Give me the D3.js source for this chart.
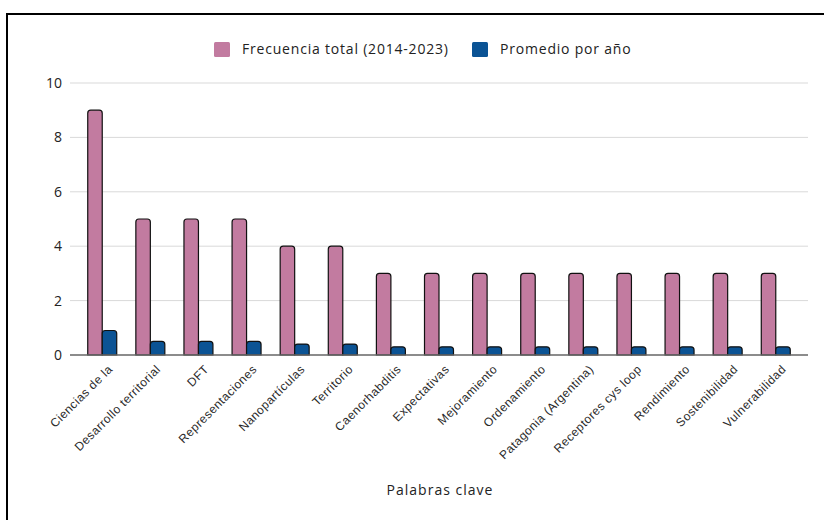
<!DOCTYPE html>
<html>
<head>
<meta charset="utf-8">
<script src="https://cdn.jsdelivr.net/npm/d3@7"></script>
<style>
  html, body { margin: 0; padding: 0; background: #fff; }
  svg { display: block; }
</style>
</head>
<body>
<svg id="chart" width="824" height="520"></svg>
<script>
// Keywords and their counts
const categories = [
  "Ciencias de la", "Desarrollo territorial", "DFT", "Representaciones",
  "Nanopartículas", "Territorio", "Caenorhabditis", "Expectativas",
  "Mejoramiento", "Ordenamiento", "Patagonia (Argentina)", "Receptores cys loop",
  "Rendimiento", "Sostenibilidad", "Vulnerabilidad"
];
const totalFreq = [9, 5, 5, 5, 4, 4, 3, 3, 3, 3, 3, 3, 3, 3, 3];
const yearlyAvg = [0.9, 0.5, 0.5, 0.5, 0.4, 0.4, 0.3, 0.3, 0.3, 0.3, 0.3, 0.3, 0.3, 0.3, 0.3];
const seriesNames = ["Frecuencia total (2014-2023)", "Promedio por año"];
const yTicks = [0, 2, 4, 6, 8, 10];
const xTitle = "Palabras clave";

const colors = ["#c27ba0", "#0b5394"];
const series = [totalFreq, yearlyAvg];

const svg = d3.select("#chart");
const plotLeft = 70, plotRight = 808, plotTop = 83, plotBottom = 355;

// outer frame
svg.append("rect")
  .attr("x", 7).attr("y", 14)
  .attr("width", 900).attr("height", 600)
  .attr("fill", "none").attr("stroke", "#000").attr("stroke-width", 2);

const x0 = d3.scaleBand().domain(categories).range([plotLeft, plotRight])
  .paddingInner(0).paddingOuter(0.17);
const x1 = d3.scaleBand().domain(seriesNames).range([0, x0.bandwidth()])
  .paddingInner(0).paddingOuter(0.66);
const y = d3.scaleLinear().domain([0, 10]).range([plotBottom, plotTop]);

// gridlines
svg.append("g").selectAll("line").data(yTicks.filter(d => d !== 0)).join("line")
  .attr("x1", plotLeft).attr("x2", plotRight)
  .attr("y1", d => y(d)).attr("y2", d => y(d))
  .attr("stroke", "#d9d9d9").attr("stroke-width", 1);

// y axis labels
const yAxis = d3.axisLeft(y).tickValues(yTicks).tickSize(0).tickPadding(8);
svg.append("g").attr("transform", `translate(${plotLeft},0)`).call(yAxis)
  .call(g => g.select(".domain").remove())
  .call(g => g.selectAll("text")
    .attr("font-family", "Open Sans, sans-serif")
    .attr("font-size", 14).attr("fill", "#222"));

// rounded-top bar path
function barPath(xp, w, v) {
  const y0 = y(0), y1 = y(v);
  const r = Math.min(3, w / 2, (y0 - y1));
  return `M${xp},${y0}V${y1 + r}Q${xp},${y1} ${xp + r},${y1}H${xp + w - r}Q${xp + w},${y1} ${xp + w},${y1 + r}V${y0}Z`;
}

series.forEach((vals, si) => {
  svg.append("g").selectAll("path").data(categories).join("path")
    .attr("d", (c, i) => barPath(x0(c) + x1(seriesNames[si]), x1.bandwidth(), vals[i]))
    .attr("fill", colors[si])
    .attr("stroke", "#111").attr("stroke-width", 1.2);
});

// baseline
svg.append("line")
  .attr("x1", plotLeft).attr("x2", plotRight)
  .attr("y1", y(0)).attr("y2", y(0))
  .attr("stroke", "#666").attr("stroke-width", 1.5);

// x labels, rotated
const xAxis = d3.axisBottom(x0).tickSize(0).tickPadding(0);
svg.append("g").attr("transform", `translate(0,${plotBottom})`).call(xAxis)
  .call(g => g.select(".domain").remove())
  .call(g => g.selectAll("text")
    .attr("font-family", "Liberation Sans, Arial, sans-serif")
    .attr("font-size", 12).attr("fill", "#2a2a2a")
    .attr("letter-spacing", 0.5)
    .attr("text-anchor", "end")
    .attr("dy", 0)
    .attr("transform", "translate(11,15) rotate(-45)"));

// legend
const legend = svg.append("g").attr("font-family", "Open Sans, sans-serif")
  .attr("font-size", 14).attr("letter-spacing", 0.8).attr("fill", "#222");
const legendX = [214, 472];
seriesNames.forEach((n, i) => {
  legend.append("rect").attr("x", legendX[i]).attr("y", 42).attr("width", 16).attr("height", 15)
    .attr("rx", 1.5).attr("fill", colors[i]);
  legend.append("text").attr("x", legendX[i] + 28).attr("y", 54).text(n).attr("fill", "#222");
});

// x axis title
svg.append("text").attr("x", 440).attr("y", 495)
  .attr("text-anchor", "middle")
  .attr("font-family", "Open Sans, sans-serif").attr("font-size", 14)
  .attr("letter-spacing", 1)
  .attr("fill", "#222").text(xTitle);
</script>
</body>
</html>
